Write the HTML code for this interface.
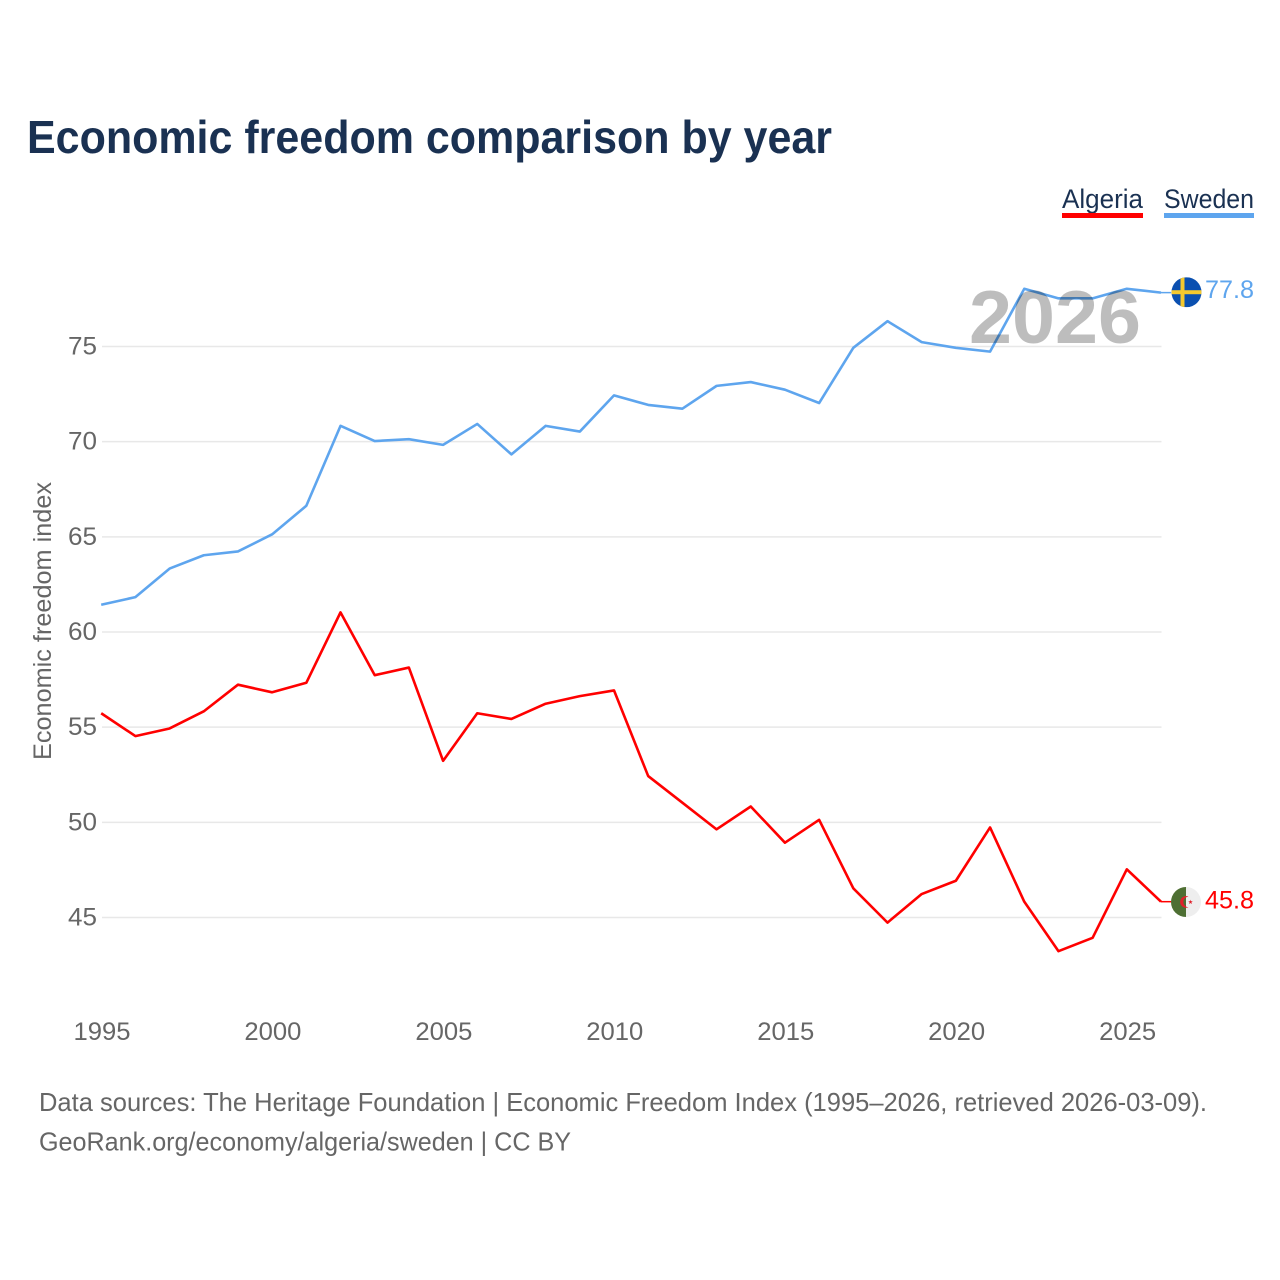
<!DOCTYPE html>
<html><head><meta charset="utf-8"><title>Economic freedom comparison by year</title>
<style>html,body{margin:0;padding:0;background:#fff}svg{display:block}text{font-family:"Liberation Sans",sans-serif}</style></head>
<body>
<svg id="chart" width="1280" height="1280" viewBox="0 0 1280 1280" xmlns="http://www.w3.org/2000/svg">
<rect width="1280" height="1280" fill="#fff"/>
<text x="27" y="153" font-size="46" font-weight="700" fill="#1a3152" textLength="805" lengthAdjust="spacingAndGlyphs">Economic freedom comparison by year</text>
<text x="1062" y="208" font-size="27" fill="#1a3152" textLength="81" lengthAdjust="spacingAndGlyphs">Algeria</text>
<rect x="1062" y="213" width="81" height="5" fill="#ff0000"/>
<text x="1164" y="208" font-size="27" fill="#1a3152" textLength="90" lengthAdjust="spacingAndGlyphs">Sweden</text>
<rect x="1164" y="213" width="90" height="5" fill="#5ea5ee"/>
<g id="grid"></g><g id="ticks"></g>
<text transform="translate(51,760) rotate(-90)" font-size="25" fill="#666" textLength="278" lengthAdjust="spacingAndGlyphs">Economic freedom index</text>
<g id="series" transform="translate(-0.8,-0.6)"></g>
<text x="969" y="343" font-size="75" font-weight="700" fill="#000" fill-opacity="0.26" textLength="172" lengthAdjust="spacingAndGlyphs">2026</text>
<g id="flag-sweden"></g>
<g id="flag-algeria"></g>
<text id="val-s" font-size="25" fill="#5ea5ee" text-anchor="end" x="1254" textLength="49" lengthAdjust="spacingAndGlyphs"></text>
<text id="val-a" font-size="25" fill="#ff0000" text-anchor="end" x="1254" textLength="49" lengthAdjust="spacingAndGlyphs"></text>
<text x="39" y="1111" font-size="26" fill="#666" textLength="1168" lengthAdjust="spacingAndGlyphs">Data sources: The Heritage Foundation | Economic Freedom Index (1995–2026, retrieved 2026-03-09).</text>
<text x="39" y="1150.5" font-size="26" fill="#666" textLength="532" lengthAdjust="spacingAndGlyphs">GeoRank.org/economy/algeria/sweden | CC BY</text>
</svg>
<script>
const years = [1995,1996,1997,1998,1999,2000,2001,2002,2003,2004,2005,2006,2007,2008,2009,2010,2011,2012,2013,2014,2015,2016,2017,2018,2019,2020,2021,2022,2023,2024,2025,2026];
const sweden = [61.4,61.8,63.3,64.0,64.2,65.1,66.6,70.8,70.0,70.1,69.8,70.9,69.3,70.8,70.5,72.4,71.9,71.7,72.9,73.1,72.7,72.0,74.9,76.3,75.2,74.9,74.7,78.0,77.5,77.5,78.0,77.8];
const algeria = [55.7,54.5,54.9,55.8,57.2,56.8,57.3,61.0,57.7,58.1,53.2,55.7,55.4,56.2,56.6,56.9,52.4,51.0,49.6,50.8,48.9,50.1,46.5,44.7,46.2,46.9,49.7,45.8,43.2,43.9,47.5,45.8];
const yTicks = [45,50,55,60,65,70,75];
const xTicks = [1995,2000,2005,2010,2015,2020,2025];
const NS = 'http://www.w3.org/2000/svg';
const xScale = y => 102 + (y - 1995) * 34.187;
const yScale = v => 917.5 - (v - 45) * 19.033;
function mk(tag, attrs, parent, txt) {
  const e = document.createElementNS(NS, tag);
  for (const k in attrs) e.setAttribute(k, attrs[k]);
  if (txt !== undefined) e.textContent = txt;
  parent.appendChild(e);
  return e;
}
const grid = document.getElementById('grid'), ticks = document.getElementById('ticks'), series = document.getElementById('series');
yTicks.forEach(t => {
  const l = mk('line', {x1: 102, x2: 1161.5, y1: yScale(t), y2: yScale(t), stroke: '#e8e8e8', 'stroke-width': 1.5}, grid);
  
  
  const s = mk('text', {x: 97, y: yScale(t) + 8, 'font-size': 25, fill: '#666', 'text-anchor': 'end', textLength: 29, lengthAdjust: 'spacingAndGlyphs'}, ticks, t);
  
  
});
xTicks.forEach(t => {
  const s = mk('text', {x: xScale(t), y: 1040, 'font-size': 25, fill: '#666', 'text-anchor': 'middle', textLength: 57, lengthAdjust: 'spacingAndGlyphs'}, ticks, t);
  
  
});
function drawLine(vals, color, name) {
  const d = vals.map((v, i) => (i ? 'L' : 'M') + xScale(years[i]).toFixed(2) + ' ' + yScale(v).toFixed(2)).join('');
  const p = mk('path', {d: d, fill: 'none', stroke: color, 'stroke-width': 2.6, 'stroke-linejoin': 'round'}, series);
  
  
  const last = vals[vals.length - 1], yy = yScale(last), xx = xScale(years[years.length - 1]);
  const lead = mk('line', {x1: xx, x2: 1172, y1: yy, y2: yy, stroke: color, 'stroke-width': 1.5}, series);
  
  
}
drawLine(sweden, '#5ea5ee', 'sweden');
drawLine(algeria, '#ff0000', 'algeria');
const sLast = sweden[sweden.length - 1], aLast = algeria[algeria.length - 1];
const sy = yScale(sLast) - 1, ay = yScale(aLast) - 0.3;
const vs = document.getElementById('val-s'); vs.setAttribute('y', yScale(sLast) + 5); vs.textContent = sLast.toFixed(1);
const va = document.getElementById('val-a'); va.setAttribute('y', yScale(aLast) + 6); va.textContent = aLast.toFixed(1);
const fs = document.getElementById('flag-sweden');
fs.innerHTML = `<clipPath id="cs"><circle cx="1186.5" cy="${sy}" r="15"/></clipPath><g clip-path="url(#cs)"><rect x="1171" y="${sy-15}" width="31" height="30" fill="#0b50b0"/><rect x="1171" y="${sy-2}" width="31" height="4" fill="#f5c92e"/><rect x="1180.5" y="${sy-15}" width="4" height="30" fill="#f5c92e"/></g>`;
const fa = document.getElementById('flag-algeria');
fa.innerHTML = `<clipPath id="ca"><circle cx="1186" cy="${ay}" r="15"/></clipPath><g clip-path="url(#ca)"><rect x="1171" y="${ay-15}" width="15" height="30" fill="#4e6f33"/><rect x="1186" y="${ay-15}" width="15" height="30" fill="#eeeeee"/><path d="M1188.5 ${ay-5.2}A5.8 5.8 0 1 0 1188.5 ${ay+5.2}A4.6 4.6 0 1 1 1188.5 ${ay-5.2}Z" fill="#e0202a"/><polygon points="1190.5,${ay-2.4} 1191,${ay-0.7} 1192.8,${ay-0.7} 1191.4,${ay+0.4} 1191.9,${ay+2.1} 1190.5,${ay+1} 1189.1,${ay+2.1} 1189.6,${ay+0.4} 1188.2,${ay-0.7} 1190,${ay-0.7}" fill="#e0202a"/></g>`;
</script>
</body></html>
